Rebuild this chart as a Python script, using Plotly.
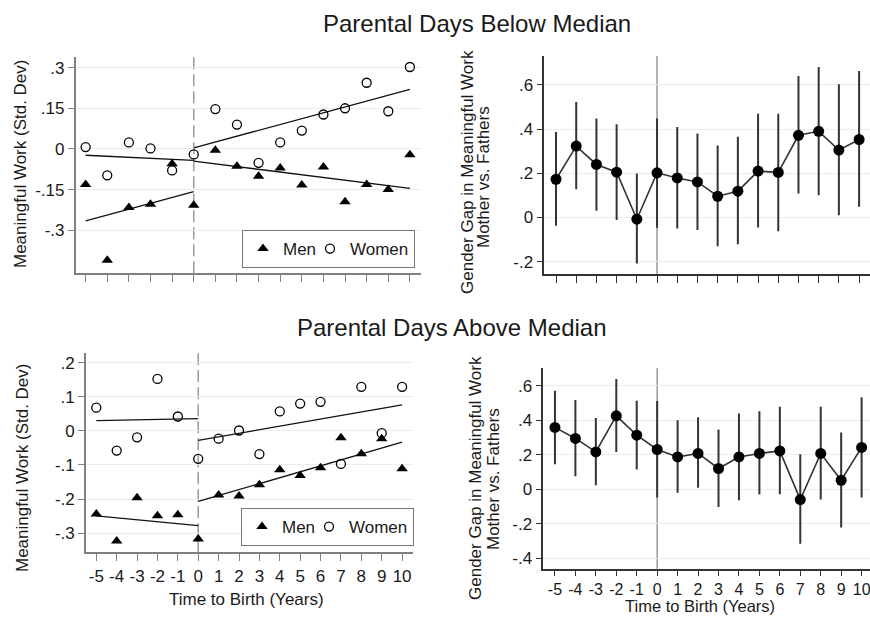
import plotly.graph_objects as go

# ---------------- data ----------------
years = list(range(-5, 11))
x_tick_labels = [str(v) for v in years]

# Top: Parental Days Below Median
top_men = [-0.131, -0.410, -0.216, -0.204, -0.054, -0.207, -0.005, -0.064,
           -0.100, -0.070, -0.133, -0.066, -0.194, -0.131, -0.149, -0.021]
top_women = [0.007, -0.097, 0.024, 0.002, -0.079, -0.020, 0.147, 0.090,
             -0.051, 0.024, 0.068, 0.127, 0.150, 0.244, 0.139, 0.302]
fit_x_pre = [-5, 0]
fit_x_post = [0, 10]
top_men_fit_pre = [-0.265, -0.157]
top_men_fit_post = [-0.045, -0.145]
top_women_fit_pre = [-0.023, -0.042]
top_women_fit_post = [0.004, 0.220]

top_gap = [0.173, 0.323, 0.240, 0.205, -0.008, 0.202, 0.179, 0.161,
           0.096, 0.119, 0.210, 0.204, 0.372, 0.390, 0.305, 0.353]
top_gap_lo = [-0.038, 0.128, 0.030, -0.012, -0.208, -0.047, -0.050, -0.057,
              -0.130, -0.121, -0.045, -0.062, 0.109, 0.101, 0.010, 0.048]
top_gap_hi = [0.387, 0.523, 0.448, 0.422, 0.199, 0.448, 0.410, 0.380,
              0.326, 0.365, 0.470, 0.470, 0.641, 0.681, 0.603, 0.663]

# Bottom: Parental Days Above Median
bot_men = [-0.244, -0.323, -0.196, -0.249, -0.246, -0.317, -0.188, -0.191,
           -0.158, -0.114, -0.131, -0.108, -0.020, -0.067, -0.023, -0.111]
bot_women = [0.068, -0.058, -0.019, 0.152, 0.042, -0.082, -0.023, 0.001,
             -0.068, 0.057, 0.080, 0.085, -0.097, 0.129, -0.007, 0.129]
bot_men_fit_pre = [-0.249, -0.278]
bot_men_fit_post = [-0.207, -0.033]
bot_women_fit_pre = [0.030, 0.036]
bot_women_fit_post = [-0.028, 0.076]

bot_gap = [0.358, 0.294, 0.216, 0.425, 0.313, 0.230, 0.187, 0.207,
           0.120, 0.187, 0.207, 0.222, -0.060, 0.207, 0.052, 0.242]
bot_gap_lo = [0.145, 0.075, 0.023, 0.216, 0.114, -0.048, -0.021, 0.008,
              -0.103, -0.064, -0.031, -0.029, -0.315, -0.060, -0.222, -0.048]
bot_gap_hi = [0.570, 0.516, 0.413, 0.638, 0.512, 0.510, 0.400, 0.416,
              0.346, 0.439, 0.452, 0.477, 0.203, 0.477, 0.329, 0.532]

tl_yticks = [-0.3, -0.15, 0, 0.15, 0.3]
tl_ylabels = ["-.3", "-.15", "0", ".15", ".3"]
tr_yticks = [-0.2, 0, 0.2, 0.4, 0.6]
tr_ylabels = ["-.2", "0", ".2", ".4", ".6"]
bl_yticks = [-0.3, -0.2, -0.1, 0, 0.1, 0.2]
bl_ylabels = ["-.3", "-.2", "-.1", "0", ".1", ".2"]
br_yticks = [-0.4, -0.2, 0, 0.2, 0.4, 0.6]
br_ylabels = ["-.4", "-.2", "0", ".2", ".4", ".6"]

# ---------------- figure ----------------
W, H = 870, 617
FONT = "Liberation Sans, Arial, sans-serif"
TXT = "#1a1a1a"
GRID = "#e6eeef"
FS = 17


def xd(a, b):
    return [a / W, b / W]


def yd(top, bottom):
    return [1 - bottom / H, 1 - top / H]


fig = go.Figure()


def scatter_panel(xa, ya, men, women, mfp, mfpo, wfp, wfpo, legend):
    for xs, ys in [(fit_x_pre, mfp), (fit_x_post, mfpo), (fit_x_pre, wfp), (fit_x_post, wfpo)]:
        fig.add_trace(go.Scatter(x=xs, y=ys, mode="lines", xaxis=xa, yaxis=ya,
                                 line=dict(color="#111111", width=1.3),
                                 showlegend=False, hoverinfo="skip"))
    fig.add_trace(go.Scatter(x=years, y=men, mode="markers", name="Men", xaxis=xa, yaxis=ya,
                             marker=dict(symbol="triangle-up", size=10, color="black"),
                             legend=legend, showlegend=True, legendwidth=22))
    fig.add_trace(go.Scatter(x=years, y=women, mode="markers", name="Women", xaxis=xa, yaxis=ya,
                             marker=dict(symbol="circle-open", size=9, color="black",
                                         line=dict(width=1.3, color="black")),
                             legend=legend, showlegend=True))


def gap_panel(xa, ya, est, lo, hi):
    plus = [h - e for h, e in zip(hi, est)]
    minus = [e - l for e, l in zip(est, lo)]
    fig.add_trace(go.Scatter(x=years, y=est, mode="lines+markers", xaxis=xa, yaxis=ya,
                             line=dict(color="#333333", width=1.6),
                             marker=dict(symbol="circle", size=11, color="black"),
                             error_y=dict(type="data", array=plus, arrayminus=minus,
                                          width=0, thickness=2, color="#333333"),
                             showlegend=False))


scatter_panel("x", "y", top_men, top_women, top_men_fit_pre, top_men_fit_post,
              top_women_fit_pre, top_women_fit_post, "legend")
gap_panel("x2", "y2", top_gap, top_gap_lo, top_gap_hi)
scatter_panel("x3", "y3", bot_men, bot_women, bot_men_fit_pre, bot_men_fit_post,
              bot_women_fit_pre, bot_women_fit_post, "legend2")
gap_panel("x4", "y4", bot_gap, bot_gap_lo, bot_gap_hi)


def xaxis(domain, anchor, rng, labels, ax, fs=FS, tl=7):
    return dict(domain=domain, anchor=anchor, range=rng, tickmode="array",
                tickvals=years, ticktext=x_tick_labels if labels else [""] * len(years),
                showline=True, linecolor=ax, linewidth=1.6, ticks="outside",
                ticklen=tl, tickwidth=1.2, tickcolor=ax, showgrid=False, zeroline=False,
                tickfont=dict(family=FONT, size=fs, color=TXT), fixedrange=True,
                ticklabeloverflow="allow")


def yaxis(domain, anchor, rng, vals, labels, ax):
    return dict(domain=domain, anchor=anchor, range=rng, tickmode="array",
                tickvals=vals, ticktext=labels, showline=True, linecolor=ax,
                linewidth=1.6, ticks="outside", ticklen=6, tickwidth=1.2, tickcolor=ax,
                showgrid=True, gridcolor=GRID, gridwidth=1, zeroline=False,
                tickfont=dict(family=FONT, size=FS, color=TXT), fixedrange=True)


LEFT_AX = "#808080"
RIGHT_AX = "#333333"

legend_style = dict(orientation="h", xanchor="right", yanchor="bottom",
                    bgcolor="white", bordercolor="#777777", borderwidth=1,
                    font=dict(family=FONT, size=FS, color=TXT), itemwidth=30,
                    tracegroupgap=0)

fig.update_layout(
    width=W, height=H,
    margin=dict(l=0, r=0, t=0, b=0),
    paper_bgcolor="white", plot_bgcolor="white",
    font=dict(family=FONT, size=FS, color=TXT),
    xaxis=xaxis(xd(75.7, 420.7), "y", [-5.46, 10.5], False, LEFT_AX),
    yaxis=yaxis(yd(56.7, 273.3), "x", [-0.458, 0.34], tl_yticks, tl_ylabels, LEFT_AX),
    xaxis2=xaxis(xd(544.3, 870), "y2", [-5.58, 10.54], False, RIGHT_AX),
    yaxis2=yaxis(yd(56, 274), "x2", [-0.256, 0.731], tr_yticks, tr_ylabels, RIGHT_AX),
    xaxis3=xaxis(xd(86, 412.7), "y3", [-5.505, 10.52], True, LEFT_AX),
    yaxis3=yaxis(yd(352.7, 552.3), "x3", [-0.356, 0.229], bl_yticks, bl_ylabels, LEFT_AX),
    xaxis4=xaxis(xd(543.3, 870), "y4", [-5.57, 10.41], True, RIGHT_AX, fs=16, tl=5),
    yaxis4=yaxis(yd(368.3, 568.7), "x4", [-0.46, 0.70], br_yticks, br_ylabels, RIGHT_AX),
    legend=dict(x=415 / W, y=1 - 268 / H, **legend_style),
    legend2=dict(x=414 / W, y=1 - 546 / H, **legend_style),
    showlegend=True,
)

# reference lines at time 0
for xr, yr, dash in [("x", "y", "12px,5px"), ("x3", "y3", "12px,5px"),
                     ("x2", "y2", "solid"), ("x4", "y4", "solid")]:
    fig.add_shape(type="line", xref=xr, yref=yr + " domain", x0=0, x1=0, y0=0, y1=1,
                  line=dict(color="#999999", width=1.5, dash=dash), layer="below")

ann = []
ann.append(dict(text="Parental Days Below Median", x=477 / W, y=1 - 24 / H,
                font=dict(size=24)))
ann.append(dict(text="Parental Days Above Median", x=452 / W, y=1 - 327 / H,
                font=dict(size=24)))
ann.append(dict(text="Meaningful Work (Std. Dev)", x=20 / W, y=1 - 164 / H,
                textangle=-90))
ann.append(dict(text="Meaningful Work (Std. Dev)", x=22 / W, y=1 - 468 / H,
                textangle=-90))
ann.append(dict(text="Gender Gap in Meaningful Work", x=467 / W, y=1 - 172 / H,
                textangle=-90))
ann.append(dict(text="Mother vs. Fathers", x=484 / W, y=1 - 177 / H, textangle=-90))
ann.append(dict(text="Gender Gap in Meaningful Work", x=475 / W, y=1 - 478 / H,
                textangle=-90))
ann.append(dict(text="Mother vs. Fathers", x=493 / W, y=1 - 479 / H, textangle=-90))
ann.append(dict(text="Time to Birth (Years)", x=246.5 / W, y=1 - 599 / H))
ann.append(dict(text="Time to Birth (Years)", x=700 / W, y=1 - 616.5 / H,
                yanchor="bottom", font=dict(size=16.5)))
for a in ann:
    a.setdefault("yanchor", "middle")
    a.update(xref="paper", yref="paper", showarrow=False, xanchor="center")
    f = dict(family=FONT, size=FS, color=TXT)
    f.update(a.get("font", {}))
    a["font"] = f
fig.update_layout(annotations=ann)

fig.write_html("out.html")
